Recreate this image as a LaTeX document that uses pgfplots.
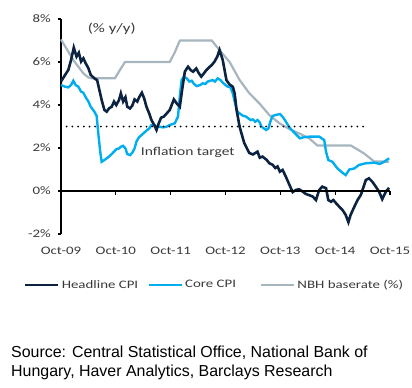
\documentclass[border=0pt]{standalone}
\usepackage{fontspec}
\usepackage{pgfplots}
\pgfplotsset{compat=1.18}
\setmainfont{Liberation Sans}
\newfontfamily\calf[FakeStretch=1.3]{Carlito}
\definecolor{headline}{HTML}{0B2341}
\definecolor{core}{HTML}{00AEEF}
\definecolor{nbh}{HTML}{A7B5BF}
\definecolor{txt}{HTML}{3A3A3A}
\begin{document}
\begin{tikzpicture}
\useasboundingbox (0,0) rectangle (412bp,-388bp);
\begin{axis}[
 at={(61bp,-234bp)}, anchor=south west,
 scale only axis, width=329bp, height=215bp,
 xmin=0, xmax=72, ymin=-2, ymax=8,
 axis y line*=left, axis x line*=bottom,
 x axis line style={draw=none},
 y axis line style={line width=1.2bp, black},
 xtick={0,12,24,36,48,60,72},
 xticklabels={Oct-09,Oct-10,Oct-11,Oct-12,Oct-13,Oct-14,Oct-15},
 ytick={-2,0,2,4,6,8},
 yticklabels={-2\%,0\%,2\%,4\%,6\%,8\%},
 xtick style={draw=none},
 ytick style={line width=1.2bp, black},
 tick align=outside, major tick length=3bp,
 ticklabel style={font=\calf\fontsize{11.5}{13}\selectfont, text=txt},
 xticklabel style={inner sep=0pt, anchor=north, yshift=-10bp},
 yticklabel style={inner sep=0pt, anchor=east, xshift=-7bp},
 clip=false,
 legend columns=3, reverse legend,
 legend image code/.code={\draw[#1] (0bp,0bp) -- (33bp,0bp);},
 legend style={at={(-0.1125,-0.237)}, anchor=west, draw=none, fill=none,
   inner sep=0pt, column sep=0pt, font=\calf\fontsize{11.5}{13}\selectfont,
   text=txt, nodes={inner sep=2bp}},
]
\addplot[nbh, line width=2.2bp] coordinates {
(0,7.05) (0.5,6.87) (1.6,6.48) (2.7,6.09) (3.8,5.78) (4.9,5.47) (6.0,5.28) (6.7,5.24)
(11.8,5.24) (12.9,5.63) (14.0,6.0) (23.8,6.0) (24.9,6.45) (25.9,6.95) (26.1,7.0)
(33.0,7.0) (34.7,6.55) (36.9,6.0) (39.1,5.16) (41.2,4.55) (43.4,4.08) (45.6,3.53)
(47.8,3.15) (50.0,2.88) (52.1,2.68) (54.3,2.45) (56.1,2.12) (63.4,2.12) (66.3,1.75)
(68.5,1.38) (71.8,1.36)};
\addlegendentry{NBH baserate (\%)}
\addplot[core, line width=2.4bp] coordinates {
(0,4.93) (0.9,4.85) (1.6,4.82) (2.2,4.93) (2.7,5.13) (3.2,4.93) (3.8,4.85) (4.4,4.62)
(4.9,4.57) (5.4,4.36) (6.0,4.16) (6.5,3.92) (7.3,3.69) (7.8,3.49) (8.2,2.60) (8.6,1.80)
(8.9,1.36) (9.5,1.44) (10.0,1.52) (10.5,1.60) (11.1,1.72) (11.6,1.83) (12.1,1.94)
(12.7,1.98) (13.1,2.06) (13.6,2.10) (14.1,1.98) (14.5,1.72) (15.1,1.67) (15.6,1.78)
(16.1,1.98) (16.5,2.29) (17.0,2.48) (17.6,2.60) (18.2,2.71) (18.7,2.81) (19.3,2.91)
(19.8,3.07) (20.4,3.07) (20.9,2.99) (21.6,2.99) (22.3,2.96) (23.1,2.99) (23.8,3.07)
(24.9,3.15) (25.6,3.46) (26.0,4.39) (26.4,5.16) (26.9,5.32) (27.5,5.24) (28.1,5.09)
(28.6,5.13) (29.1,4.98) (29.7,4.88) (30.5,4.93) (31.0,5.01) (31.6,4.98) (32.1,5.09)
(32.7,5.13) (33.2,5.16) (33.7,5.09) (34.3,5.24) (34.9,5.16) (35.4,5.04) (36.0,4.93)
(36.5,4.85) (37.1,4.82) (37.6,4.54) (38.1,4.08) (38.6,3.69) (39.1,3.61) (39.6,3.53)
(40.0,3.49) (40.5,3.46) (41.0,3.38) (41.5,3.30) (42.0,3.33) (42.5,3.22) (43.0,3.30)
(43.4,3.22) (43.9,2.99) (44.4,2.91) (44.9,2.84) (45.4,2.91) (45.8,3.22) (46.3,3.49)
(46.9,3.53) (47.9,3.58) (48.5,3.45) (49.0,3.30) (50.0,2.95) (51.2,2.68) (52.3,2.45)
(53.1,2.50) (54.5,2.53) (56.5,2.53) (57.6,2.37) (58.0,1.83) (58.5,1.44) (59.4,1.36)
(60.5,1.05) (61.6,0.85) (62.3,0.74) (63.1,1.00) (64.2,1.05) (65.2,1.21) (66.7,1.29)
(68.5,1.32) (69.8,1.26) (70.7,1.36) (71.8,1.52)};
\addlegendentry{\makebox[73bp][l]{Core CPI}}
\addplot[headline, line width=2.6bp] coordinates {
(0,5.09) (0.9,5.40) (1.6,5.63) (2.2,6.09) (2.8,6.67) (3.4,6.25) (3.9,6.43) (4.4,6.02)
(4.9,6.17) (5.4,5.94) (6.0,5.71) (6.5,5.40) (7.3,5.24) (7.9,5.16) (8.4,4.70) (8.9,4.23)
(9.5,3.77) (10.0,3.69) (10.5,3.84) (11.1,3.92) (11.6,4.16) (12.1,4.00) (12.7,4.23)
(13.1,4.54) (13.6,4.16) (14.1,4.36) (14.5,3.92) (15.1,3.84) (15.6,3.97) (16.1,4.26)
(16.7,4.16) (17.1,4.36) (17.7,4.57) (18.2,4.31) (18.7,3.92) (19.3,3.61) (19.8,3.30)
(20.4,3.07) (20.9,2.84) (21.4,3.15) (21.9,3.41) (22.5,3.46) (23.1,3.60) (23.8,3.77)
(24.7,4.26) (25.4,4.05) (26.0,3.92) (26.6,4.85) (27.1,5.55) (27.8,5.78) (28.4,5.62)
(28.9,5.55) (29.6,5.70) (30.1,5.50) (30.7,5.32) (31.2,5.45) (31.8,5.62) (32.4,5.75)
(33.0,5.86) (33.6,6.02) (34.2,6.25) (34.7,6.56) (35.4,6.09) (36.2,5.16) (36.9,4.95)
(37.6,4.85) (38.0,4.54) (38.4,3.80) (39.1,2.98) (40.1,2.23) (41.2,1.77) (42.0,1.70)
(43.0,1.83) (43.5,1.55) (44.1,1.60) (45.0,1.45) (45.6,1.29) (46.3,1.22) (46.9,1.07)
(47.4,1.14) (47.9,0.90) (48.5,0.98) (49.2,0.67) (50.0,0.28) (50.7,-0.05) (51.4,0.05)
(52.1,0.08) (52.9,-0.03) (53.6,-0.14) (54.3,-0.19) (55.1,-0.26) (55.8,-0.42) (56.5,0.05)
(57.2,0.20) (58.0,0.13) (58.5,-0.42) (59.1,-0.50) (59.6,-0.42) (60.2,-0.57) (60.9,-0.73)
(61.6,-0.88) (62.3,-1.11) (62.9,-1.45) (63.4,-1.10) (64.2,-0.73) (64.9,-0.42) (65.6,-0.19)
(66.1,0.12) (66.7,0.51) (67.4,0.59) (68.1,0.44) (68.9,0.20) (69.6,-0.03) (70.3,-0.38)
(71.1,-0.03) (71.8,0.15)};
\addlegendentry{\makebox[84bp][l]{Headline CPI}}
\addplot[black, line width=2bp, dash pattern=on 0bp off 5.7bp, line cap=round, forget plot]
 coordinates {(0,3) (66.5,3)};
\draw[line width=1.2bp] (axis cs:0,0) -- (axis cs:72,0);
\draw[line width=1.2bp] (axis cs:12,0) -- ([yshift=-4bp]axis cs:12,0);
\draw[line width=1.2bp] (axis cs:24,0) -- ([yshift=-4bp]axis cs:24,0);
\draw[line width=1.2bp] (axis cs:36,0) -- ([yshift=-4bp]axis cs:36,0);
\draw[line width=1.2bp] (axis cs:48,0) -- ([yshift=-4bp]axis cs:48,0);
\draw[line width=1.2bp] (axis cs:60,0) -- ([yshift=-4bp]axis cs:60,0);
\draw[line width=1.2bp] (axis cs:72,0) -- ([yshift=-4bp]axis cs:72,0);
\node[font=\calf\fontsize{13}{15}\selectfont, text=txt] at (axis cs:11.1,7.53) {(\% y/y)};
\node[anchor=west, inner sep=0pt, font=\calf\fontsize{12}{14}\selectfont, text=txt] at (axis cs:17.45,1.81) {Inflation target};
\end{axis}
\node[anchor=base west, inner sep=0pt, font=\fontsize{16}{18}\selectfont] at (11bp,-357bp) {Source: Central Statistical Office, National Bank of};
\node[anchor=base west, inner sep=0pt, font=\fontsize{16}{18}\selectfont] at (11bp,-376bp) {Hungary, Haver Analytics, Barclays Research};
\end{tikzpicture}
\end{document}
